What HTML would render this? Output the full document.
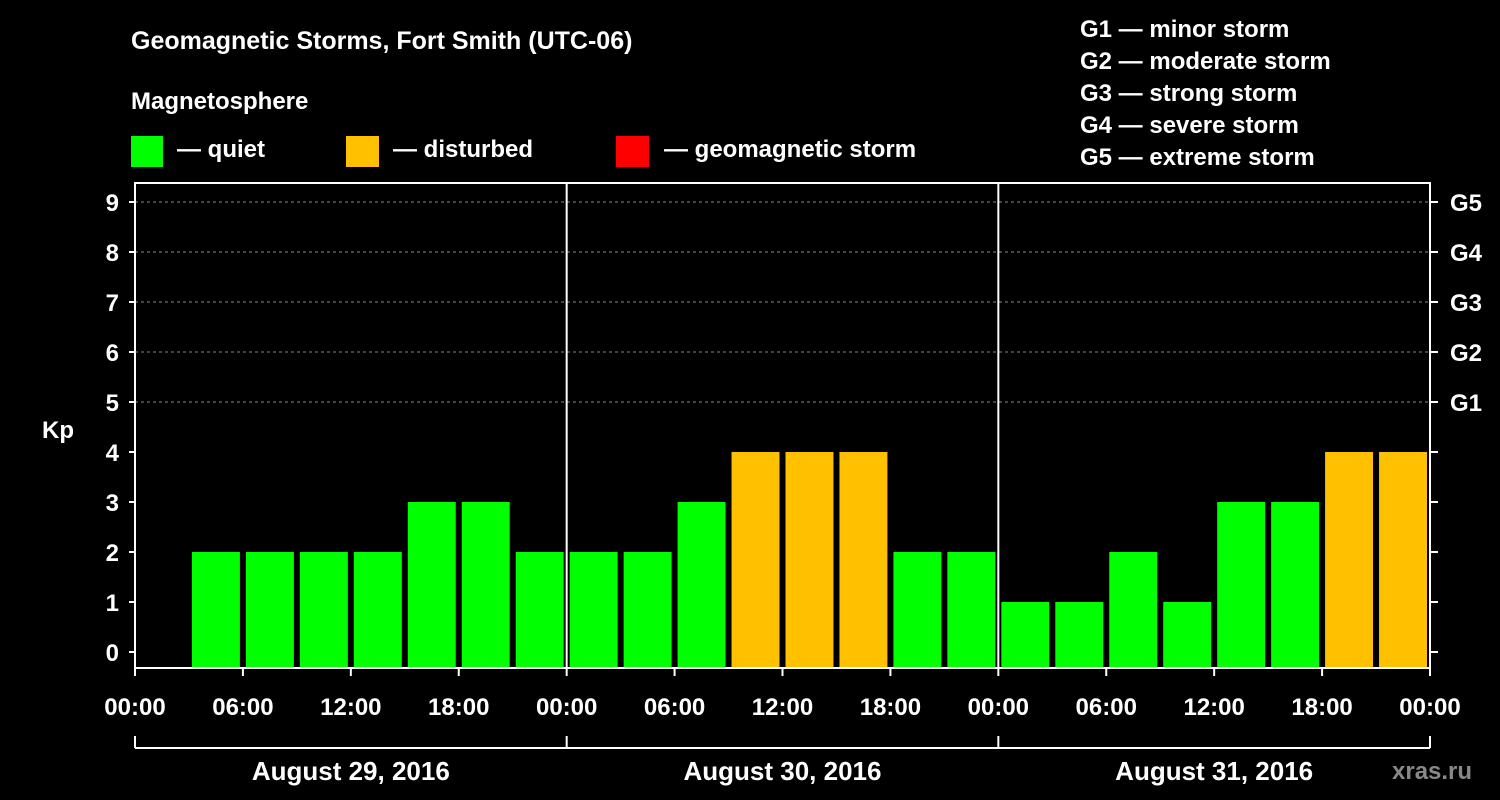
<!DOCTYPE html>
<html><head><meta charset="utf-8"><style>
body{margin:0;background:#000;}
svg{display:block;font-family:"Liberation Sans",sans-serif;font-weight:bold;}
</style></head><body>
<svg id="chart" width="1500" height="800" xmlns="http://www.w3.org/2000/svg">
<rect width="1500" height="800" fill="#000"/>
<text x="131" y="49" fill="#fff" font-size="25">Geomagnetic Storms, Fort Smith (UTC-06)</text>
<text x="131" y="109" fill="#fff" font-size="24">Magnetosphere</text>
<g><rect x="131" y="136" width="32" height="31" fill="#00ff00"/><text x="177" y="157" fill="#fff" font-size="24">— quiet</text></g>
<g><rect x="346" y="136" width="33" height="31" fill="#ffc000"/><text x="393" y="157" fill="#fff" font-size="24">— disturbed</text></g>
<g><rect x="616" y="136" width="33" height="31" fill="#ff0000"/><text x="664" y="157" fill="#fff" font-size="24">— geomagnetic storm</text></g>
<g fill="#fff" font-size="24">
<text x="1080" y="37">G1 — minor storm</text><text x="1080" y="69">G2 — moderate storm</text><text x="1080" y="101">G3 — strong storm</text><text x="1080" y="133">G4 — severe storm</text><text x="1080" y="165">G5 — extreme storm</text></g>
<text x="42" y="438" fill="#fff" font-size="24">Kp</text>
<text x="1392" y="779" fill="#888" font-size="24">xras.ru</text>
<g id="grid"></g><g id="bars"></g><g id="axes"></g>
</svg>
<script>
const days = ["August 29, 2016","August 30, 2016","August 31, 2016"];
const kpValues = [null,2,2,2,2,3,3,2, 2,2,3,4,4,4,2,2, 1,1,2,1,3,3,4,4];
const yTicks = [0,1,2,3,4,5,6,7,8,9];
const gLabels = ["G1","G2","G3","G4","G5"];
const xTickLabels = ["00:00","06:00","12:00","18:00"];
const NS="http://www.w3.org/2000/svg";
const L=135,R=1430,T=183,B=668;
const dayW=(R-L)/days.length, slotW=dayW/8;
const y=v=>652-50*v;
const x=i=>L+i*slotW;
function mk(tag,attrs,parent,txt){const e=document.createElementNS(NS,tag);for(const k in attrs)e.setAttribute(k,attrs[k]);if(txt!==undefined)e.textContent=txt;parent.appendChild(e);return e;}
const grid=document.getElementById('grid'),bars=document.getElementById('bars'),axes=document.getElementById('axes');
for(let v=5;v<=9;v++){const l=mk('line',{x1:L,x2:R,y1:y(v),y2:y(v),stroke:'#888','stroke-dasharray':'3,3'},grid);

}
kpValues.forEach((v,i)=>{if(v===null)return;
const c=v>=5?'#ff0000':(v>=4?'#ffc000':'#00ff00');
const r=mk('rect',{x:x(i)+3,y:y(v),width:slotW-6,height:B-y(v),fill:c},bars);

});
const fr=mk('rect',{x:L,y:T,width:R-L,height:B-T,fill:'none',stroke:'#fff','stroke-width':2},axes);


for(let d=1;d<days.length;d++){const l=mk('line',{x1:L+d*dayW,x2:L+d*dayW,y1:T,y2:B,stroke:'#fff','stroke-width':2},axes);

}
yTicks.forEach(v=>{mk('line',{x1:L-6,x2:L,y1:y(v),y2:y(v),stroke:'#fff','stroke-width':2},axes);
mk('line',{x1:R,x2:R+8,y1:y(v),y2:y(v),stroke:'#fff','stroke-width':2},axes);
const t=mk('text',{x:L-16,y:y(v)+9,fill:'#fff','font-size':24,'text-anchor':'end'},axes,String(v));

});
gLabels.forEach((g,i)=>{const t=mk('text',{x:1450,y:y(5+i)+9,fill:'#fff','font-size':24},axes,g);

});
for(let i=0;i<=days.length*4;i++){const xx=L+i*dayW/4;
mk('line',{x1:xx,x2:xx,y1:B,y2:B+8,stroke:'#fff','stroke-width':2},axes);
const t=mk('text',{x:xx,y:715,fill:'#fff','font-size':24,'text-anchor':'middle'},axes,xTickLabels[i%4]);

}
mk('line',{x1:L,x2:R,y1:748,y2:748,stroke:'#fff','stroke-width':2},axes);
for(let d=0;d<=days.length;d++){mk('line',{x1:L+d*dayW,x2:L+d*dayW,y1:736,y2:748,stroke:'#fff','stroke-width':2},axes);}
days.forEach((d,i)=>{const t=mk('text',{x:L+(i+0.5)*dayW,y:780,fill:'#fff','font-size':26,'text-anchor':'middle'},axes,d);

});
</script>
</body></html>
